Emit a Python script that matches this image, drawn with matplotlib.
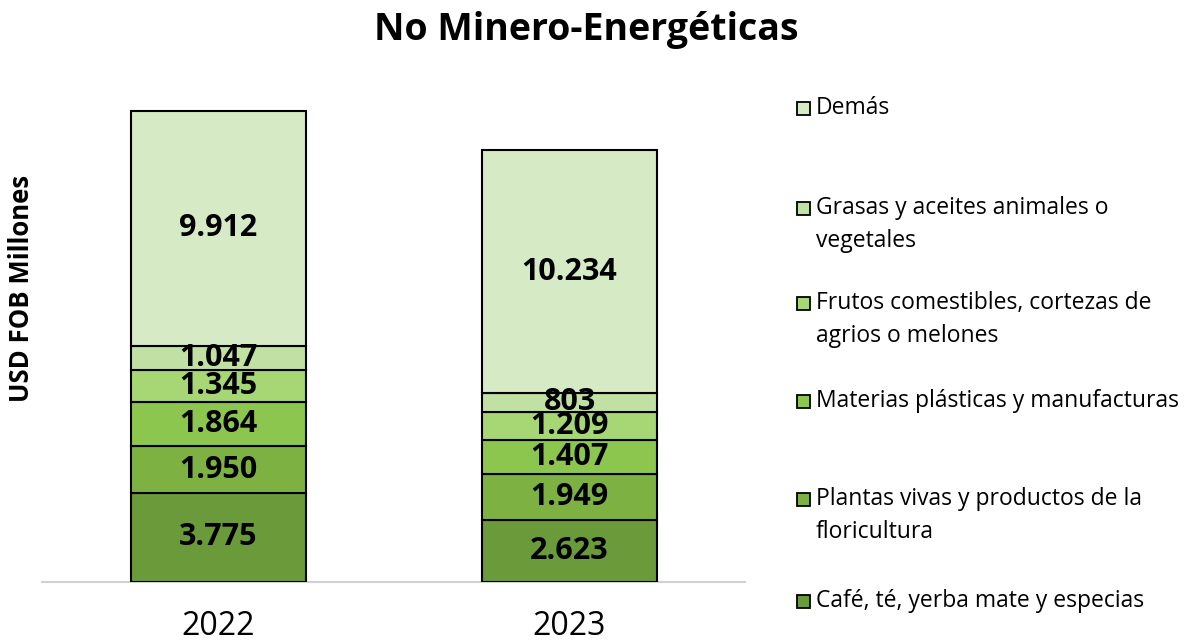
import matplotlib
matplotlib.use("Agg")
import matplotlib.pyplot as plt
from matplotlib.patches import Rectangle

plt.rcParams['font.family'] = ['Open Sans', 'DejaVu Sans']

years = ["2022", "2023"]
categories = [
    "Café, té, yerba mate y especias",
    "Plantas vivas y productos de la\nfloricultura",
    "Materias plásticas y manufacturas",
    "Frutos comestibles, cortezas de\nagrios o melones",
    "Grasas y aceites animales o\nvegetales",
    "Demás",
]
values_2022 = [3775, 1950, 1864, 1345, 1047, 9912]
values_2023 = [2623, 1949, 1407, 1209, 803, 10234]
colors = ["#6b9a3a", "#7db243", "#8cc64e", "#a6d774", "#c1e1a4", "#d5eac5"]

series = list(zip(values_2022, values_2023))

fig = plt.figure(figsize=(11.91, 6.43), dpi=100)
ax = fig.add_axes([42/1191, 1-582/643, (745-42)/1191, 521/643])

x = [0, 1]
bottoms = [0, 0]
for vals, col in zip(series, colors):
    ax.bar(x, vals, bottom=bottoms, width=0.5, color=col, edgecolor="black", linewidth=1.5, zorder=3)
    for xi, v, b in zip(x, vals, bottoms):
        lbl = f"{v:,}".replace(",", ".")
        ax.text(xi, b + v/2, lbl, ha="center", va="center", fontsize=22, fontweight="bold",
                color="black", zorder=4)
    bottoms = [b + v for b, v in zip(bottoms, vals)]

ax.set_xlim(-0.503, 1.5)
ax.set_ylim(0, 22000)
ax.set_xticks(x)
ax.set_xticklabels(years, fontsize=23)
ax.tick_params(axis='x', length=0, pad=20)
ax.set_yticks([])
for s in ["top", "right", "left"]:
    ax.spines[s].set_visible(False)
ax.spines["bottom"].set_color("#d0d0d0")
ax.spines["bottom"].set_linewidth(1.5)

fig.text(0.5 * (375 + 797) / 1191, 1 - 30/643, "No Minero-Energéticas", ha="center", va="center",
         fontsize=27, fontweight="bold")
fig.text(22/1191, 1 - 288/643, "USD FOB Millones", rotation=90, ha="center", va="center",
         fontsize=18.5, fontweight="bold")

# legend (manual, reversed order)
leg_y = [601, 499, 401, 303, 208, 108]
for cat, col, yy in zip(categories, colors, leg_y):
    fig.patches.append(Rectangle((797/1191, 1 - (yy + 6.5)/643), 13/1191, 13/643,
                                 transform=fig.transFigure, facecolor=col, edgecolor="black",
                                 linewidth=1.3))
    for i, line in enumerate(cat.split("\n")):
        fig.text(816/1191, 1 - (yy + 33*i)/643, line, ha="left", va="center", fontsize=16.5)

fig.savefig("out.png", dpi=100)
